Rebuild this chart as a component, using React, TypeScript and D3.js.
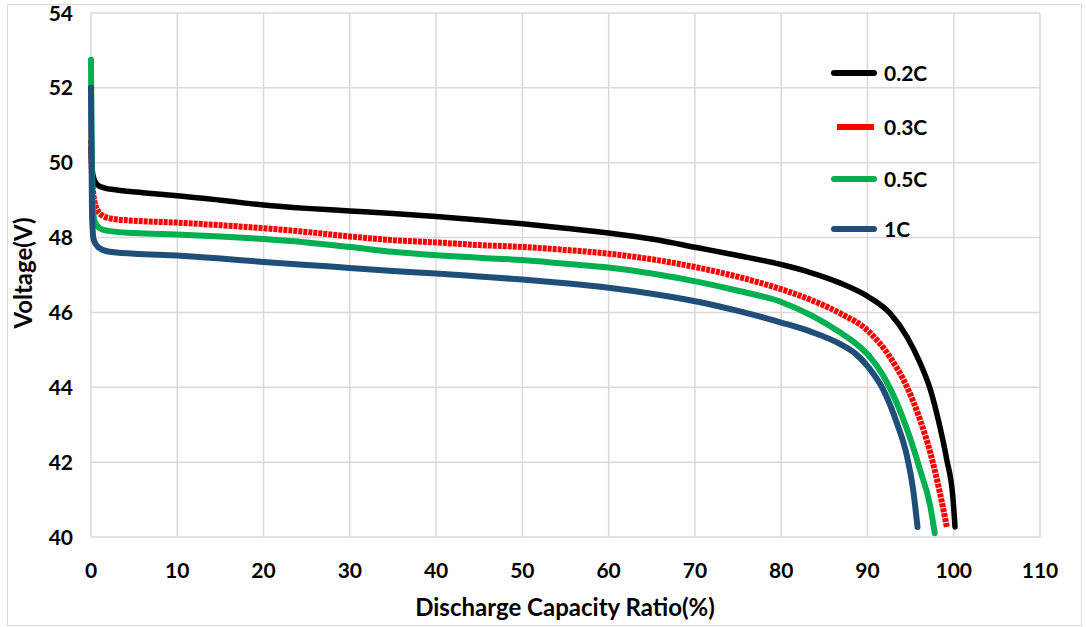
import React, { useEffect, useRef } from 'react';
import * as d3 from 'd3';

// discharge curves: [capacity %, voltage V]
const series02C: [number, number][] = [
  [0, 50.4], [0.1, 49.9], [0.3, 49.6], [0.7, 49.42], [1.5, 49.33], [3, 49.27], [6, 49.2],
  [10, 49.12], [15, 49.0], [20, 48.87], [25, 48.78], [30, 48.71], [35, 48.64], [40, 48.56],
  [45, 48.47], [50, 48.37], [55, 48.25], [60, 48.12], [65, 47.96], [70.5, 47.72], [75, 47.52],
  [80, 47.28], [83.5, 47.06], [86.8, 46.79], [90.1, 46.42], [92.6, 45.98], [94.6, 45.34],
  [96.1, 44.65], [97.3, 43.93], [98.4, 42.94], [99.2, 42.06], [99.9, 41.07], [100.15, 40.27],
];
const series03C: [number, number][] = [
  [0, 50.6], [0.1, 49.8], [0.3, 49.1], [0.7, 48.75], [1.4, 48.58], [2.5, 48.5], [5, 48.45],
  [10, 48.4], [15, 48.33], [20, 48.25], [25, 48.15], [30, 48.03], [35, 47.93], [40, 47.87],
  [45, 47.8], [50, 47.75], [55, 47.67], [60, 47.57], [65, 47.42], [70.5, 47.19], [75, 46.95],
  [80, 46.62], [83.5, 46.33], [86.8, 45.98], [90.1, 45.5], [92.6, 44.81], [94.6, 44.0],
  [96.1, 43.13], [97.3, 42.24], [98.4, 41.18], [99.2, 40.27],
];
const series05C: [number, number][] = [
  [0, 52.75], [0.05, 51.0], [0.15, 49.2], [0.4, 48.45], [1, 48.25], [2, 48.18], [5, 48.12],
  [10, 48.08], [15, 48.03], [20, 47.96], [25, 47.87], [30, 47.75], [35, 47.62], [40, 47.53],
  [45, 47.46], [50, 47.4], [55, 47.3], [60, 47.2], [65, 47.04], [70.5, 46.81], [75, 46.58],
  [80, 46.28], [83.5, 45.92], [86.8, 45.47], [88.6, 45.18], [90.1, 44.86], [91.8, 44.32],
  [93.4, 43.58], [94.9, 42.67], [96.1, 41.79], [97.3, 40.8], [97.8, 40.1],
];
const series1C: [number, number][] = [
  [0, 52.0], [0.05, 50.5], [0.12, 48.6], [0.3, 47.95], [0.8, 47.75], [2, 47.63], [5, 47.57],
  [10, 47.52], [15, 47.44], [20, 47.35], [25, 47.27], [30, 47.19], [35, 47.11], [40, 47.04],
  [45, 46.96], [50, 46.88], [55, 46.78], [60, 46.66], [65, 46.5], [70.5, 46.28], [75, 46.04],
  [80, 45.73], [83.5, 45.48], [86.8, 45.16], [88.6, 44.9], [90.1, 44.54], [91.8, 43.95],
  [93.4, 43.05], [94.6, 42.14], [95.3, 41.26], [95.8, 40.27],
];

const seriesNames = ['0.2C', '0.3C', '0.5C', '1C'];
const seriesColors = ['#000000', '#ff0000', '#00b050', '#1f4e79'];
const seriesData = [series02C, series03C, series05C, series1C];

const xTicks = [0, 10, 20, 30, 40, 50, 60, 70, 80, 90, 100, 110];
const yTicks = [40, 42, 44, 46, 48, 50, 52, 54];

const FONT = 'Lato, "Open Sans", sans-serif';

export default function App() {
  const svgRef = useRef<SVGSVGElement>(null);

  useEffect(() => {
    const W = 1086;
    const H = 627;
    const plot = { left: 91, top: 13, right: 1040, bottom: 537 };

    const svg = d3.select(svgRef.current);
    svg.selectAll('*').remove();
    svg.attr('width', W).attr('height', H);

    svg.append('rect').attr('width', W).attr('height', H).attr('fill', '#fff');
    // outer chart border
    svg.append('rect')
      .attr('x', 7.5).attr('y', 4.5).attr('width', 1074).attr('height', 621)
      .attr('fill', 'none').attr('stroke', '#d9d9d9').attr('stroke-width', 1);

    const x = d3.scaleLinear().domain([0, 110]).range([plot.left, plot.right]);
    const y = d3.scaleLinear().domain([40, 54]).range([plot.bottom, plot.top]);

    // gridlines
    const grid = svg.append('g').attr('stroke', '#d9d9d9').attr('stroke-width', 1.5);
    xTicks.forEach(t => {
      grid.append('line')
        .attr('x1', x(t)).attr('x2', x(t)).attr('y1', plot.top).attr('y2', plot.bottom);
    });
    yTicks.forEach(t => {
      grid.append('line')
        .attr('x1', plot.left).attr('x2', plot.right).attr('y1', y(t)).attr('y2', y(t));
    });

    // tick labels
    svg.append('g').selectAll('text').data(yTicks).enter().append('text')
      .attr('x', 73).attr('y', d => y(d)).attr('dy', '0.36em')
      .attr('text-anchor', 'end')
      .attr('font-family', FONT).attr('font-weight', 700).attr('font-size', 21)
      .attr('fill', '#000')
      .text(d => d);
    svg.append('g').selectAll('text').data(xTicks).enter().append('text')
      .attr('x', d => x(d)).attr('y', 570).attr('dy', '0.36em')
      .attr('text-anchor', 'middle')
      .attr('font-family', FONT).attr('font-weight', 700).attr('font-size', 21)
      .attr('fill', '#000')
      .text(d => d);

    // axis titles
    svg.append('text')
      .attr('x', 565).attr('y', 616)
      .attr('text-anchor', 'middle')
      .attr('font-family', FONT).attr('font-weight', 700).attr('font-size', 24)
      .text('Discharge Capacity Ratio(%)');
    svg.append('text')
      .attr('transform', 'translate(32,273) rotate(-90)')
      .attr('text-anchor', 'middle')
      .attr('font-family', FONT).attr('font-weight', 700).attr('font-size', 24)
      .text('Voltage(V)');

    // curves
    const line = d3.line<[number, number]>()
      .x(d => x(d[0]))
      .y(d => y(d[1]))
      .curve(d3.curveMonotoneX);

    seriesData.forEach((data, i) => {
      svg.append('path')
        .datum(data)
        .attr('d', line)
        .attr('fill', 'none')
        .attr('stroke', seriesColors[i])
        .attr('stroke-width', i === 0 ? 5.5 : 6)
        .attr('stroke-dasharray', i === 1 ? '4,1' : null)
        .attr('stroke-linecap', i === 1 ? 'butt' : 'round')
        .attr('stroke-linejoin', 'round');
    });

    // legend
    const legendY = [73, 127, 179, 229];
    const legend = svg.append('g');
    seriesNames.forEach((name, i) => {
      legend.append('line')
        .attr('x1', i === 1 ? 837 : 834).attr('x2', 874)
        .attr('y1', legendY[i]).attr('y2', legendY[i])
        .attr('stroke', seriesColors[i])
        .attr('stroke-width', 6)
        .attr('stroke-linecap', i === 1 ? 'butt' : 'round');
      legend.append('text')
        .attr('x', 884).attr('y', legendY[i]).attr('dy', '0.36em')
        .attr('font-family', FONT).attr('font-weight', 700).attr('font-size', 21)
        .attr('fill', '#000')
        .text(name);
    });
  }, []);

  return (
    <div style={{ position: 'absolute', left: 0, top: 0 }}>
      <svg ref={svgRef}></svg>
    </div>
  );
}
